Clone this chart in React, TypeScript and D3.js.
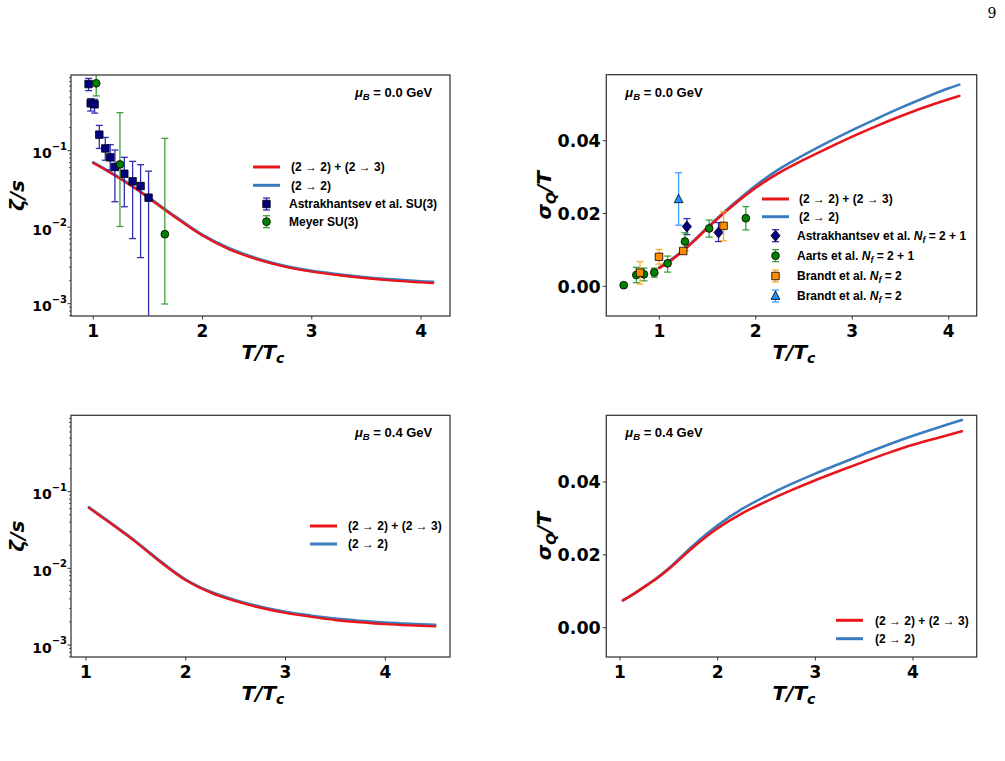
import * as d3 from 'd3'

type Row = [number, number, number, number] // T/Tc, value, lower, upper

const xTicks = [1, 2, 3, 4]
const logTicks = [1e-3, 1e-2, 1e-1]
const logTickExp = ['\u22123', '\u22122', '\u22121']
const linTicks = [0, 0.02, 0.04]
const linTickLabels = ['0.00', '0.02', '0.04']

// model curves, mu_B = 0.0 GeV
const tGrid0 = [1.0, 1.125, 1.25, 1.375, 1.5, 1.75, 2.0, 2.25, 2.5, 2.75, 3.0, 3.25, 3.5, 3.75, 4.0, 4.11]
const zetaFull0 = [0.069, 0.0548, 0.0427, 0.0327, 0.0245, 0.0135, 0.0078, 0.0051, 0.0038, 0.00305, 0.00262, 0.00235, 0.00215, 0.002, 0.0019, 0.00186]
const zetaTwo0 = [0.07, 0.0556, 0.0434, 0.0332, 0.0249, 0.0138, 0.0079, 0.00525, 0.00389, 0.00313, 0.00269, 0.00242, 0.00221, 0.00207, 0.00196, 0.00192]
const sigmaFull0 = [0.005, 0.0072, 0.0098, 0.0128, 0.016, 0.0219, 0.0271, 0.0313, 0.0348, 0.038, 0.0411, 0.044, 0.0467, 0.0492, 0.0514, 0.0523]
const sigmaTwo0 = [0.0052, 0.0074, 0.01, 0.013, 0.0162, 0.0222, 0.0277, 0.0323, 0.0361, 0.0396, 0.0429, 0.046, 0.049, 0.0518, 0.0544, 0.0554]

// model curves, mu_B = 0.4 GeV
const tGrid4 = [1.03, 1.125, 1.25, 1.375, 1.5, 1.75, 2.0, 2.25, 2.5, 2.75, 3.0, 3.25, 3.5, 3.75, 4.0, 4.25, 4.5]
const zetaFull4 = [0.0615, 0.05, 0.0384, 0.0292, 0.022, 0.012, 0.007, 0.00482, 0.00373, 0.00306, 0.00262, 0.00234, 0.00212, 0.00198, 0.00187, 0.0018, 0.00175]
const zetaTwo4 = [0.0625, 0.0508, 0.039, 0.0297, 0.0224, 0.01225, 0.00713, 0.00493, 0.00383, 0.00315, 0.00271, 0.00242, 0.0022, 0.00206, 0.00195, 0.00188, 0.00183]
const sigmaFull4 = [0.0075, 0.009, 0.0112, 0.0135, 0.0161, 0.0221, 0.0273, 0.0314, 0.0347, 0.0377, 0.0405, 0.0431, 0.0456, 0.048, 0.0502, 0.0521, 0.0539]
const sigmaTwo4 = [0.0075, 0.009, 0.0113, 0.0136, 0.0163, 0.0226, 0.0281, 0.0326, 0.0362, 0.0394, 0.0423, 0.045, 0.0477, 0.0503, 0.0527, 0.0549, 0.057]

// lattice data
const astraZeta: Row[] = [
  [0.957, 0.743, 0.61, 0.88],
  [0.976, 0.416, 0.33, 0.48],
  [1.012, 0.404, 0.31, 0.47],
  [1.055, 0.162, 0.107, 0.214],
  [1.11, 0.107, 0.075, 0.149],
  [1.155, 0.0818, 0.056, 0.12],
  [1.198, 0.0612, 0.0215, 0.102],
  [1.284, 0.05, 0.0185, 0.082],
  [1.36, 0.0398, 0.0071, 0.0725],
  [1.433, 0.0345, 0.004, 0.0656],
  [1.506, 0.0243, 0.00001, 0.054],
]
const meyerZeta: Row[] = [
  [1.027, 0.76, 0.52, 1.5],
  [1.244, 0.0662, 0.0102, 0.314],
  [1.655, 0.0081, 0.00099, 0.145],
]
const astraSigma: Row[] = [
  [1.286, 0.0164, 0.0142, 0.0186],
  [1.614, 0.0148, 0.0123, 0.0175],
]
const aartsSigma: Row[] = [
  [0.631, 0.0003, 0.0003, 0.0003],
  [0.762, 0.0031, 0.001, 0.0052],
  [0.841, 0.0033, 0.0015, 0.005],
  [0.948, 0.0038, 0.0025, 0.005],
  [1.086, 0.0063, 0.0039, 0.0083],
  [1.266, 0.0123, 0.0098, 0.0147],
  [1.517, 0.0159, 0.0135, 0.0182],
  [1.897, 0.0187, 0.0155, 0.0219],
]
const brandtSigma: Row[] = [
  [0.8, 0.00375, 0.0006, 0.0068],
  [0.997, 0.0081, 0.0061, 0.0101],
  [1.248, 0.0097, 0.0091, 0.0103],
  [1.666, 0.0166, 0.0125, 0.0205],
]
const brandtTri: Row[] = [[1.2, 0.0239, 0.0168, 0.0312]]

const RED = '#e8161c'
const BLUE = '#3a7dbe'
const TICK_FONT = "'DejaVu Sans', sans-serif"
const LEG_FONT = "'Liberation Sans', Arial, sans-serif"

type Curve = { t: number[]; v: number[]; color: string; w: number; label: string }
type DataSet = { rows: Row[]; shape: string; fill: string; bar: string; label: string; nf?: string }

type PanelProps = {
  id: string
  left: number
  top: number
  right: number
  bottom: number
  xDomain: [number, number]
  yDomain: [number, number]
  log: boolean
  yLabel: 'zeta' | 'sigma'
  mu: string
  muX: number
  curves: Curve[]
  sets: DataSet[]
  legX: number
  legTextX: number
  legY: number[]
}

function Marker({ shape, x, y, fill }: { shape: string; x: number; y: number; fill: string }) {
  const s = { fill, stroke: '#000', strokeWidth: 0.8 }
  if (shape === 'square')
    return <path d={d3.symbol(d3.symbolSquare, 56)() || ''} transform={`translate(${x},${y})`} {...s} />
  if (shape === 'circle') return <circle cx={x} cy={y} r={3.9} {...s} />
  if (shape === 'diamond')
    return <path d={`M${x},${y - 5.5}L${x + 4.6},${y}L${x},${y + 5.5}L${x - 4.6},${y}Z`} {...s} />
  return <path d={`M${x},${y - 5}L${x + 4.4},${y + 3.4}L${x - 4.4},${y + 3.4}Z`} {...s} />
}

function ErrBar({ x, y0, y1, color }: { x: number; y0: number; y1: number; color: string }) {
  return (
    <g stroke={color} strokeWidth={1.3} opacity={0.9}>
      <line x1={x} x2={x} y1={y0} y2={y1} />
      <line x1={x - 3.5} x2={x + 3.5} y1={y0} y2={y0} />
      <line x1={x - 3.5} x2={x + 3.5} y1={y1} y2={y1} />
    </g>
  )
}

function Panel(p: PanelProps) {
  const x = d3.scaleLinear().domain(p.xDomain).range([p.left, p.right])
  const y = p.log
    ? d3.scaleLog().domain(p.yDomain).range([p.bottom, p.top])
    : d3.scaleLinear().domain(p.yDomain).range([p.bottom, p.top])
  const path = (c: Curve) =>
    d3
      .line<number>()
      .x((_, i) => x(c.t[i]))
      .y(d => y(d))
      .curve(d3.curveCatmullRom.alpha(0.5))(c.v) || ''
  const minor = p.log
    ? (y as d3.ScaleLogarithmic<number, number>).ticks().filter(v => !logTicks.some(t => Math.abs(v - t) < t * 1e-6))
    : []
  const cx = (p.left + p.right) / 2
  const cy = (p.top + p.bottom) / 2
  const labX = p.yLabel === 'zeta' ? p.left - 47 : p.left - 55

  return (
    <g>
      <defs>
        <clipPath id={p.id}>
          <rect x={p.left} y={p.top} width={p.right - p.left} height={p.bottom - p.top} />
        </clipPath>
      </defs>
      <g clipPath={`url(#${p.id})`}>
        {p.curves.map((c, i) => (
          <path key={i} d={path(c)} fill="none" stroke={c.color} strokeWidth={c.w} strokeLinecap="round" />
        ))}
        {p.sets.map((s, i) => (
          <g key={i}>
            {s.rows.map((r, j) => (
              <ErrBar key={j} x={x(r[0])} y0={y(r[2])} y1={y(r[3])} color={s.bar} />
            ))}
            {s.rows.map((r, j) => (
              <Marker key={j} shape={s.shape} x={x(r[0])} y={y(r[1])} fill={s.fill} />
            ))}
          </g>
        ))}
      </g>
      <rect x={p.left} y={p.top} width={p.right - p.left} height={p.bottom - p.top} fill="none" stroke="#3c3c3c" strokeWidth={1.3} />

      {/* x axis */}
      {xTicks.map(t => (
        <g key={t}>
          <line x1={x(t)} x2={x(t)} y1={p.bottom} y2={p.bottom + 3.5} stroke="#333" strokeWidth={1} />
          <text x={x(t)} y={p.bottom + 21} textAnchor="middle" fontFamily={TICK_FONT} fontWeight="bold" fontSize={17}>
            {t}
          </text>
        </g>
      ))}

      {/* y axis */}
      {p.log
        ? logTicks.map((t, i) => (
            <g key={t}>
              <line x1={p.left - 3.5} x2={p.left} y1={y(t)} y2={y(t)} stroke="#333" strokeWidth={1} />
              <text x={p.left - 4} y={y(t) + 7.6} textAnchor="end" fontFamily={TICK_FONT} fontWeight="bold">
                <tspan fontSize={14}>10</tspan>
                <tspan fontSize={10} dy={-8.5}>
                  {logTickExp[i]}
                </tspan>
              </text>
            </g>
          ))
        : linTicks.map((t, i) => (
            <g key={t}>
              <line x1={p.left - 3.5} x2={p.left} y1={y(t)} y2={y(t)} stroke="#333" strokeWidth={1} />
              <text x={p.left - 5.5} y={y(t) + 6.3} textAnchor="end" fontFamily={TICK_FONT} fontWeight="bold" fontSize={17.5}>
                {linTickLabels[i]}
              </text>
            </g>
          ))}
      {minor.map((t, i) => (
        <line key={i} x1={p.left - 2} x2={p.left} y1={y(t)} y2={y(t)} stroke="#333" strokeWidth={0.8} />
      ))}

      {/* axis labels */}
      <text x={cx - 19} y={p.bottom + 43} fontFamily={TICK_FONT} fontWeight="bold" fontStyle="italic" fontSize={20}>
        T/T
        <tspan fontSize={14} dy={4}>
          c
        </tspan>
      </text>
      <text
        transform={`translate(${labX},${cy}) rotate(-90)`}
        textAnchor="middle"
        fontFamily={TICK_FONT}
        fontWeight="bold"
        fontStyle="italic"
        fontSize={20}
      >
        {p.yLabel === 'zeta' ? (
          'ζ/s'
        ) : (
          <>
            σ
            <tspan fontSize={14} dy={5}>
              Q
            </tspan>
            <tspan dy={-5}>/T</tspan>
          </>
        )}
      </text>

      {/* mu_B */}
      <text x={p.muX} y={p.top + 22} fontFamily={LEG_FONT} fontWeight="bold" fontSize={13}>
        <tspan fontStyle="italic">μ</tspan>
        <tspan fontStyle="italic" fontSize={9.5} dy={3}>
          B
        </tspan>
        <tspan dy={-3}> = {p.mu} GeV</tspan>
      </text>

      {/* legend */}
      {p.curves
        .slice()
        .reverse()
        .map((c, i) => (
          <g key={i}>
            <line x1={p.legX} x2={p.legX + 27} y1={p.legY[i]} y2={p.legY[i]} stroke={c.color} strokeWidth={3} />
            <text x={p.legTextX + 2} y={p.legY[i] + 4.3} fontFamily={LEG_FONT} fontWeight="bold" fontSize={12}>
              {c.label}
            </text>
          </g>
        ))}
      {p.sets.map((s, i) => {
        const ly = p.legY[i + p.curves.length]
        const mx = p.legX + 13.5
        return (
          <g key={i}>
            <ErrBar x={mx} y0={ly - 6} y1={ly + 6} color={s.bar} />
            <Marker shape={s.shape} x={mx} y={ly} fill={s.fill} />
            <text x={p.legTextX} y={ly + 4.3} fontFamily={LEG_FONT} fontWeight="bold" fontSize={12}>
              {s.label}
              {s.nf && (
                <>
                  {' '}
                  <tspan fontStyle="italic">N</tspan>
                  <tspan fontStyle="italic" fontSize={9} dy={3}>
                    f
                  </tspan>
                  <tspan dy={-3}> = {s.nf}</tspan>
                </>
              )}
            </text>
          </g>
        )
      })}
    </g>
  )
}

const LABEL_FULL = '(2 \u2192 2) + (2 \u2192 3)'
const LABEL_TWO = '(2 \u2192 2)'

export default function App() {
  const zetaSets: DataSet[] = [
    { rows: astraZeta, shape: 'square', fill: '#000080', bar: '#1818a8', label: 'Astrakhantsev et al. SU(3)' },
    { rows: meyerZeta, shape: 'circle', fill: '#008000', bar: '#2a962a', label: 'Meyer SU(3)' },
  ]
  const sigmaSets: DataSet[] = [
    { rows: astraSigma, shape: 'diamond', fill: '#000080', bar: '#1818a8', label: 'Astrakhantsev et al.', nf: '2 + 1' },
    { rows: aartsSigma, shape: 'circle', fill: '#008000', bar: '#2a962a', label: 'Aarts et al.', nf: '2 + 1' },
    { rows: brandtSigma, shape: 'square', fill: '#ff8c00', bar: '#ffa31a', label: 'Brandt et al.', nf: '2' },
    { rows: brandtTri, shape: 'triangle', fill: '#1e90ff', bar: '#2b96ff', label: 'Brandt et al.', nf: '2' },
  ]
  return (
    <svg width={1005} height={761} style={{ position: 'absolute', left: 0, top: 0, background: '#fff' }}>
      <text x={992} y={18} textAnchor="middle" fontFamily="'DejaVu Serif', serif" fontSize={14}>
        9
      </text>
      <Panel
        id="c1"
        left={71}
        top={75}
        right={450}
        bottom={316}
        xDomain={[0.796, 4.265]}
        yDomain={[6.9e-4, 0.976]}
        log
        yLabel="zeta"
        mu="0.0"
        muX={355}
        curves={[
          { t: tGrid0, v: zetaFull0, color: RED, w: 2.4, label: LABEL_FULL },
          { t: tGrid0, v: zetaTwo0, color: BLUE, w: 2.8, label: LABEL_TWO },
        ].reverse()}
        sets={zetaSets}
        legX={253}
        legTextX={289}
        legY={[167, 185.3, 204, 221.7]}
      />
      <Panel
        id="c2"
        left={606.3}
        top={74.7}
        right={976.7}
        bottom={316}
        xDomain={[0.4506, 4.29]}
        yDomain={[-0.00816, 0.05813]}
        log={false}
        yLabel="sigma"
        mu="0.0"
        muX={625.3}
        curves={[
          { t: tGrid0, v: sigmaFull0, color: RED, w: 2.6, label: LABEL_FULL },
          { t: tGrid0, v: sigmaTwo0, color: BLUE, w: 2.6, label: LABEL_TWO },
        ].reverse()}
        sets={sigmaSets}
        legX={762}
        legTextX={797}
        legY={[199, 216.7, 235.7, 255.7, 276, 296]}
      />
      <Panel
        id="c3"
        left={71}
        top={415.3}
        right={450}
        bottom={657}
        xDomain={[0.8497, 4.6485]}
        yDomain={[6.97e-4, 0.992]}
        log
        yLabel="zeta"
        mu="0.4"
        muX={355}
        curves={[
          { t: tGrid4, v: zetaFull4, color: RED, w: 2.4, label: LABEL_FULL },
          { t: tGrid4, v: zetaTwo4, color: BLUE, w: 2.8, label: LABEL_TWO },
        ].reverse()}
        sets={[]}
        legX={310}
        legTextX={346}
        legY={[526, 544]}
      />
      <Panel
        id="c4"
        left={606.3}
        top={415.3}
        right={976.7}
        bottom={657}
        xDomain={[0.8597, 4.652]}
        yDomain={[-0.00804, 0.05831]}
        log={false}
        yLabel="sigma"
        mu="0.4"
        muX={625.3}
        curves={[
          { t: tGrid4, v: sigmaFull4, color: RED, w: 2.6, label: LABEL_FULL },
          { t: tGrid4, v: sigmaTwo4, color: BLUE, w: 2.6, label: LABEL_TWO },
        ].reverse()}
        sets={[]}
        legX={836}
        legTextX={873}
        legY={[620.3, 638.7]}
      />
    </svg>
  )
}
